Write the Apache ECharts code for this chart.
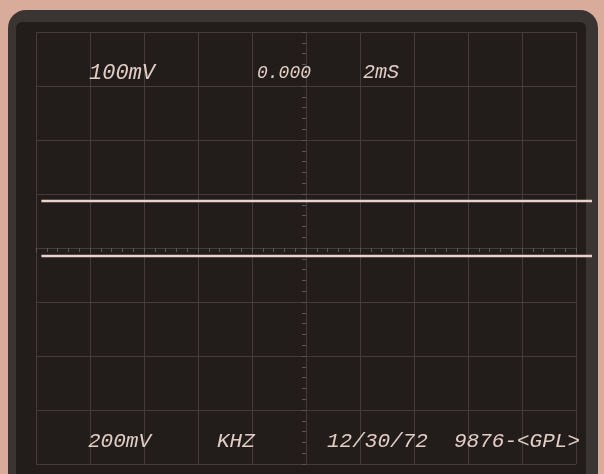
<!DOCTYPE html>
<html>
<head>
<meta charset="utf-8">
<script src="https://cdn.jsdelivr.net/npm/echarts@6/dist/echarts.min.js"></script>
<style>html,body{margin:0;padding:0;background:#d9ab9a;}#c{width:604px;height:474px;}</style>
</head>
<body>
<div id="c"></div>
<script>
// Graticule: 10 horizontal divisions x 8 vertical divisions, centred on 0
const xDivisions = [-5, 5];
const yDivisions = [-4, 4];
// Trace sweep start/end (in divisions) and levels (divisions from centre)
const traceX = [-4.9, 5.3];
const upperTrace = [0.87, 0.87];
const lowerTrace = [-0.15, -0.15];
// Readout texts on the screen
const topReadouts = ['100mV', '0.000', '2mS'];
const bottomReadouts = ['200mV', 'KHZ', '12/30/72', '9876-<GPL>'];

const chart = echarts.init(document.getElementById('c'), null, {renderer: 'canvas'});
const gridCol = '#443c3a';
const tickCol = '#5e5451';
const traceCol = '#e9d3ca';
const textCol = '#e2cdc4';
const font = '"Liberation Mono", "DejaVu Sans Mono", monospace';

function pts(ys) { return traceX.map((x, i) => [x, ys[i]]); }

const topPos = [[89, 62], [257, 64], [363, 63]];
const topSize = [22, 18, 20];
const botPos = [[88, 431], [217, 431], [327, 431], [454, 431]];

const texts = [];
topReadouts.forEach((t, i) => texts.push({
  type: 'text', left: topPos[i][0], top: topPos[i][1], z: 50,
  style: {text: t, fill: textCol, font: 'italic ' + topSize[i] + 'px ' + font}
}));
bottomReadouts.forEach((t, i) => texts.push({
  type: 'text', left: botPos[i][0], top: botPos[i][1], z: 50,
  style: {text: t, fill: textCol, font: 'italic 21px ' + font}
}));

const axisCommonX = {
  type: 'value', min: xDivisions[0], max: xDivisions[1], interval: 1,
  axisLabel: {show: false}, gridIndex: 0
};
const axisCommonY = {
  type: 'value', min: yDivisions[0], max: yDivisions[1], interval: 1,
  axisLabel: {show: false}, gridIndex: 0
};
const tickStyle = {color: tickCol, width: 1};

chart.setOption({
  backgroundColor: '#d9ab9a',
  animation: false,
  graphic: {elements: [
    {type: 'rect', z: -100, shape: {x: 8, y: 10, width: 590, height: 480, r: 18},
     style: {fill: '#3a3432'}},
    {type: 'rect', z: -99, shape: {x: 16, y: 22, width: 570, height: 460, r: 6},
     style: {fill: '#221c1b'}}
  ].concat(texts)},
  grid: [
    {left: 36, right: 28, top: 32, bottom: 10, show: false},
    // sweep area: the beam runs a little past the right graticule edge
    {left: 36, right: 12, top: 32, bottom: 10, show: false}
  ],
  xAxis: [
    Object.assign({}, axisCommonX, {
      axisLine: {show: true, onZero: true, lineStyle: {color: gridCol, width: 1}},
      axisTick: {show: true, inside: false, length: 4, lineStyle: tickStyle},
      minorTick: {show: true, splitNumber: 5, length: 4, lineStyle: tickStyle},
      splitLine: {show: true, lineStyle: {color: gridCol, width: 1}}
    }),
    Object.assign({}, axisCommonX, {
      axisLine: {show: false, onZero: true},
      axisTick: {show: true, inside: true, length: 4, lineStyle: tickStyle},
      minorTick: {show: true, splitNumber: 5, length: 4, lineStyle: tickStyle},
      splitLine: {show: false}
    }),
    {type: 'value', gridIndex: 1, min: xDivisions[0], max: traceX[1], show: false}
  ],
  yAxis: [
    Object.assign({}, axisCommonY, {
      axisLine: {show: true, onZero: true, lineStyle: {color: gridCol, width: 1}},
      axisTick: {show: true, inside: false, length: 4, lineStyle: tickStyle},
      minorTick: {show: true, splitNumber: 5, length: 4, lineStyle: tickStyle},
      splitLine: {show: true, lineStyle: {color: gridCol, width: 1}}
    }),
    Object.assign({}, axisCommonY, {
      axisLine: {show: false, onZero: true},
      axisTick: {show: true, inside: true, length: 4, lineStyle: tickStyle},
      minorTick: {show: true, splitNumber: 5, length: 4, lineStyle: tickStyle},
      splitLine: {show: false}
    }),
    {type: 'value', gridIndex: 1, min: yDivisions[0], max: yDivisions[1], show: false}
  ],
  series: [
    {type: 'line', xAxisIndex: 2, yAxisIndex: 2, data: pts(upperTrace), showSymbol: false,
     lineStyle: {color: traceCol, width: 2.5}, z: 10},
    {type: 'line', xAxisIndex: 2, yAxisIndex: 2, data: pts(lowerTrace), showSymbol: false,
     lineStyle: {color: traceCol, width: 2.5}, z: 10}
  ]
});
</script>
</body>
</html>
